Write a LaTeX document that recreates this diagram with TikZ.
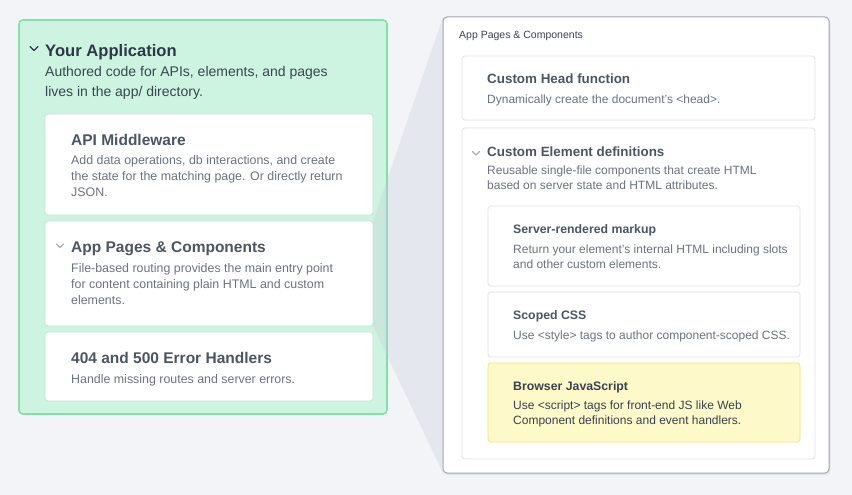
\documentclass[tikz,border=0pt]{standalone}
\usepackage{fontspec}
\setmainfont{Liberation Sans}
\definecolor{bgc}{HTML}{F3F4F8}
\definecolor{greenfill}{HTML}{CDF4E1}
\definecolor{greenline}{HTML}{86E0A4}
\definecolor{gcardline}{HTML}{BFE6D2}
\definecolor{darktext}{HTML}{2D3748}
\definecolor{subtext}{HTML}{3B4451}
\definecolor{titletext}{HTML}{4B5563}
\definecolor{desctext}{HTML}{6B7280}
\definecolor{rboxline}{HTML}{A3A7B0}
\definecolor{rcardline}{HTML}{DDE0E8}
\definecolor{wedgec}{HTML}{C4C9D7}
\definecolor{yelfill}{HTML}{FEF9C8}
\definecolor{yelline}{HTML}{F5E36A}
\definecolor{chevlight}{HTML}{A8B0BE}
\definecolor{jstext}{HTML}{374151}
\begin{document}
\begin{tikzpicture}[x=1pt,y=-1pt,
  txt/.style={inner sep=0pt, anchor=base west},
  bigtitle/.style={txt, text=darktext, font=\fontsize{16.6}{20}\selectfont\bfseries},
  bigsub/.style={txt, text=subtext, font=\fontsize{14}{17}\selectfont},
  ltitle/.style={txt, text=titletext, font=\fontsize{15.5}{19}\selectfont\bfseries},
  ldesc/.style={txt, text=desctext, font=\fontsize{12.4}{15}\selectfont},
  rlabel/.style={txt, text=subtext, font=\fontsize{10.5}{13}\selectfont},
  rtitle/.style={txt, text=titletext, font=\fontsize{13.4}{16}\selectfont\bfseries},
  rdesc/.style={txt, text=desctext, font=\fontsize{12}{15}\selectfont},
  stitle/.style={txt, text=titletext, font=\fontsize{12.3}{15}\selectfont\bfseries},
  sdesc/.style={txt, text=desctext, font=\fontsize{12}{15}\selectfont},
  box/.style={anchor=north west, inner sep=0pt, outer sep=0pt},
  gcard/.style={box, draw=gcardline, fill=white, rounded corners=3pt, line width=0.8pt},
  rcard/.style={box, draw=rcardline, fill=white, rounded corners=3pt, line width=0.8pt},
  chev/.style={line width=1.4pt, line cap=round, line join=round}
]
\useasboundingbox (0,0) rectangle (852,495);
\fill[bgc] (0,0) rectangle (852,495);

% left application box
\node (app) [box, draw=greenline, fill=greenfill, rounded corners=4pt, line width=1.6pt,
  minimum width=368pt, minimum height=394pt] at (19,20) {};
\coordinate (c1a) at (30,46.5); \coordinate (c1b) at (34,50.5); \coordinate (c1c) at (38,46.5);
\draw[chev, darktext] (c1a) -- (c1b) -- (c1c);
\node (apptitle) [bigtitle] at (45,57) {Your Application};
\node (appsub1) [bigsub] at (45,77) {Authored code for APIs, elements, and pages};
\node (appsub2) [bigsub] at (45,96.5) {lives in the app/ directory.};

\node (api) [gcard, minimum width=328pt, minimum height=101pt] at (45,114) {};
\node (apit) [ltitle] at (71,145) {API Middleware};
\node (apid1) [ldesc] at (71,164.5) {Add data operations, db interactions, and create};
\node (apid2) [ldesc] at (71,180.5) {the state for the matching page. Or directly return};
\node (apid3) [ldesc] at (71,196.5) {JSON.};

\node (pages) [gcard, minimum width=328pt, minimum height=105pt] at (45,221) {};
\coordinate (c2a) at (56.5,244); \coordinate (c2b) at (60,247.5); \coordinate (c2c) at (63.5,244);
\draw[chev, chevlight, line width=1.1pt] (c2a) -- (c2b) -- (c2c);
\node (pagest) [ltitle] at (71,252) {App Pages \& Components};
\node (pagesd1) [ldesc] at (71,272.5) {File-based routing provides the main entry point};
\node (pagesd2) [ldesc] at (71,288.5) {for content containing plain HTML and custom};
\node (pagesd3) [ldesc] at (71,304) {elements.};

\node (err) [gcard, minimum width=328pt, minimum height=69pt] at (45,332) {};
\node (errt) [ltitle] at (71,363) {404 and 500 Error Handlers};
\node (errd1) [ldesc] at (71,383) {Handle missing routes and server errors.};

% right panel shadow and wedge
\coordinate (rtl) at (443,17);
\coordinate (rbl) at (443,473);
\fill[wedgec, fill opacity=0.3] (pages.north east) -- (rtl) -- (rbl) -- (pages.south east) -- cycle;
\fill[black, opacity=0.06, rounded corners=4pt] (443.5,18.5) rectangle (830.5,475);

\node (rbox) [box, draw=rboxline, fill=white, rounded corners=4pt, line width=1pt,
  minimum width=386pt, minimum height=456pt] at (rtl) {};
\node (rlab) [rlabel] at (459,39) {App Pages \& Components};

\node (head) [rcard, minimum width=353pt, minimum height=64pt] at (462,56) {};
\node (headt) [rtitle] at (487,84) {Custom Head function};
\node (headd) [rdesc] at (487,103.5) {Dynamically create the document's <head>.};

\node (elem) [rcard, minimum width=353pt, minimum height=331pt] at (462,128) {};
\coordinate (c3a) at (472.5,151.5); \coordinate (c3b) at (476,155); \coordinate (c3c) at (479.5,151.5);
\draw[chev, chevlight, line width=1.1pt] (c3a) -- (c3b) -- (c3c);
\node (elemt) [rtitle] at (487,156) {Custom Element definitions};
\node (elemd1) [rdesc] at (487,174.5) {Reusable single-file components that create HTML};
\node (elemd2) [rdesc] at (487,189.5) {based on server state and HTML attributes.};

\node (srv) [rcard, minimum width=312pt, minimum height=80pt] at (488,206) {};
\node (srvt) [stitle] at (513,233.5) {Server-rendered markup};
\node (srvd1) [sdesc] at (513,253) {Return your element's internal HTML including slots};
\node (srvd2) [sdesc] at (513,268) {and other custom elements.};

\node (css) [rcard, minimum width=312pt, minimum height=65pt] at (488,292) {};
\node (csst) [stitle] at (513,319.5) {Scoped CSS};
\node (cssd1) [sdesc] at (513,339) {Use <style> tags to author component-scoped CSS.};

\node (js) [box, draw=yelline, fill=yelfill, rounded corners=3pt, line width=0.8pt,
  minimum width=312pt, minimum height=79pt] at (488,363) {};
\node (jst) [stitle, text=jstext] at (513,390.5) {Browser JavaScript};
\node (jsd1) [sdesc, text=jstext] at (513,409) {Use <script> tags for front-end JS like Web};
\node (jsd2) [sdesc, text=jstext] at (513,424.5) {Component definitions and event handlers.};
\end{tikzpicture}
\end{document}
